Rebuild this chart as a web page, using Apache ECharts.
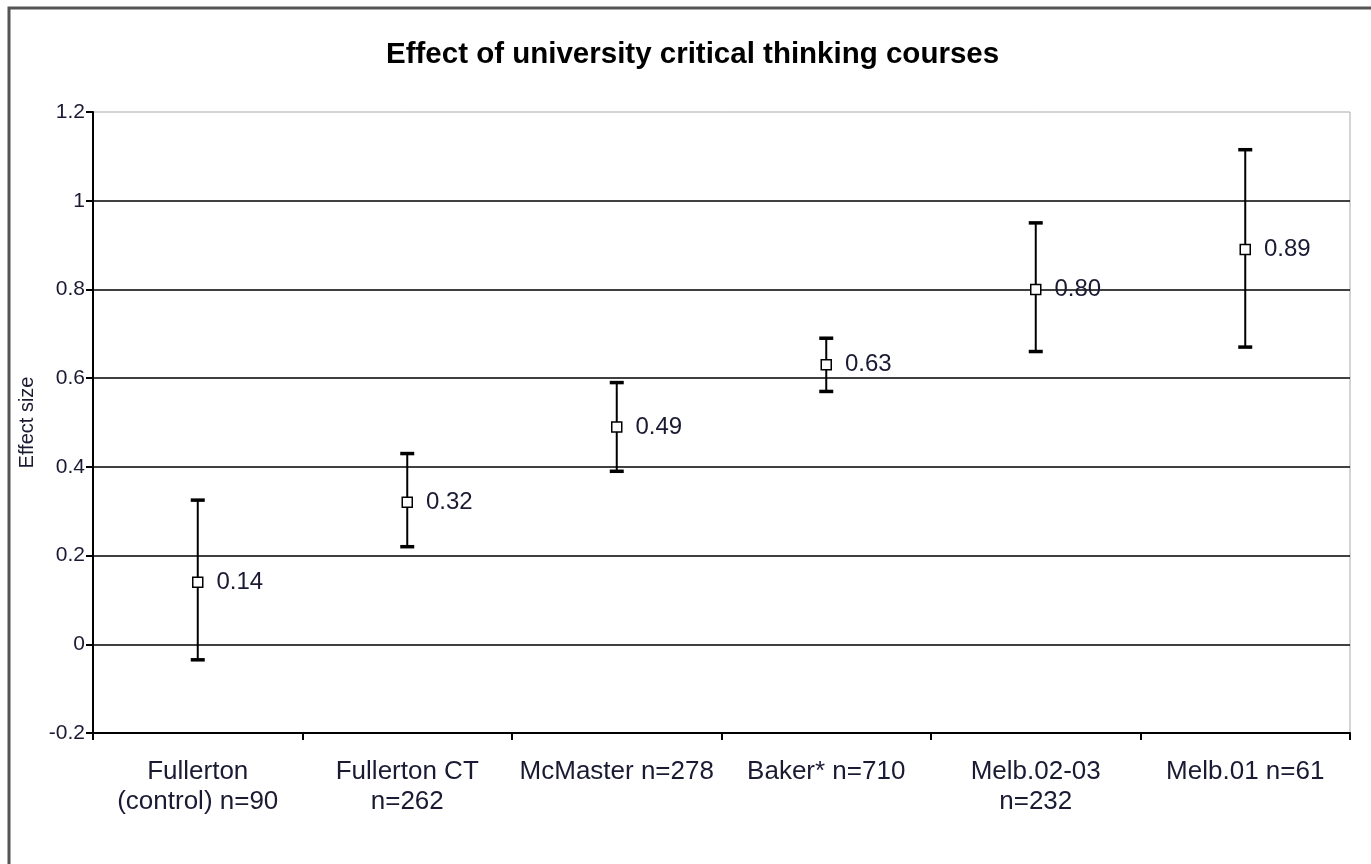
<!DOCTYPE html>
<html>
<head>
<meta charset="utf-8">
<title>Effect of university critical thinking courses</title>
<script src="https://cdn.jsdelivr.net/npm/echarts@6/dist/echarts.min.js"></script>
<style>
  html, body { margin: 0; padding: 0; background: #fff; }
  #chart { width: 1371px; height: 864px; }
</style>
</head>
<body>
<div id="chart"></div>
<script>
  // 数据：各组类别、效应量及误差范围
  var categories = [
    'Fullerton\n(control) n=90',
    'Fullerton CT\nn=262',
    'McMaster n=278',
    'Baker* n=710',
    'Melb.02-03\nn=232',
    'Melb.01 n=61'
  ];
  var effectSize = [0.14, 0.32, 0.49, 0.63, 0.80, 0.89];
  var lowerBound = [-0.035, 0.22, 0.39, 0.57, 0.66, 0.67];
  var upperBound = [0.325, 0.43, 0.59, 0.69, 0.95, 1.115];
  var yTicks = { min: -0.2, max: 1.2, interval: 0.2 };

  var fontFamily = 'Arial, "Liberation Sans", sans-serif';
  var textColor = '#1a1a33';

  var errorData = effectSize.map(function (v, i) {
    return [i, lowerBound[i], upperBound[i]];
  });

  // 误差线：竖线 + 上下端帽
  function renderErrorBar(params, api) {
    var low = api.coord([api.value(0), api.value(1)]);
    var high = api.coord([api.value(0), api.value(2)]);
    var capHalf = 7;
    var lineStyle = { stroke: '#000', lineWidth: 2 };
    var capStyle = { stroke: '#000', lineWidth: 3.5 };
    return {
      type: 'group',
      children: [
        { type: 'line', shape: { x1: high[0], y1: high[1], x2: low[0], y2: low[1] }, style: lineStyle },
        { type: 'line', shape: { x1: high[0] - capHalf, y1: high[1], x2: high[0] + capHalf, y2: high[1] }, style: capStyle },
        { type: 'line', shape: { x1: low[0] - capHalf, y1: low[1], x2: low[0] + capHalf, y2: low[1] }, style: capStyle }
      ]
    };
  }

  var chart = echarts.init(document.getElementById('chart'));
  chart.setOption({
    backgroundColor: '#fff',
    animation: false,
    graphic: [{
      type: 'rect',
      shape: { x: 9, y: 8, width: 1400, height: 900 },
      style: { fill: 'none', stroke: '#555', lineWidth: 3 },
      silent: true
    }],
    title: {
      text: 'Effect of university critical thinking courses',
      left: 381,
      top: 35,
      textStyle: { fontFamily: fontFamily, fontSize: 29.5, fontWeight: 'bold', color: '#000' }
    },
    grid: {
      left: 93,
      right: 21,
      top: 112,
      bottom: 131,
      show: true,
      borderColor: '#aaa',
      borderWidth: 1,
      containLabel: false
    },
    xAxis: {
      type: 'category',
      data: categories,
      boundaryGap: true,
      axisLine: { onZero: false, lineStyle: { color: '#000', width: 2 } },
      axisTick: { show: true, alignWithLabel: false, length: 7, lineStyle: { color: '#000', width: 2 } },
      axisLabel: {
        interval: 0,
        margin: 24,
        color: textColor,
        fontFamily: fontFamily,
        fontSize: 26,
        lineHeight: 30
      },
      splitLine: { show: false }
    },
    yAxis: {
      type: 'value',
      min: yTicks.min,
      max: yTicks.max,
      interval: yTicks.interval,
      name: 'Effect size',
      nameLocation: 'middle',
      nameGap: 47,
      nameRotate: 90,
      nameTextStyle: { fontFamily: fontFamily, fontSize: 20, color: textColor },
      axisLine: { show: true, lineStyle: { color: '#000', width: 2 } },
      axisTick: { show: true, length: 7, lineStyle: { color: '#000', width: 2 } },
      axisLabel: {
        margin: 8,
        color: textColor,
        fontFamily: fontFamily,
        fontSize: 21,
        formatter: function (v) { return String(Math.round(v * 10) / 10); }
      },
      splitLine: {
        show: true,
        showMaxLine: false,
        lineStyle: { color: '#000', width: 1.5 }
      }
    },
    series: [
      {
        type: 'custom',
        name: 'range',
        renderItem: renderErrorBar,
        data: errorData,
        encode: { x: 0, y: [1, 2] },
        z: 2
      },
      {
        type: 'scatter',
        name: 'Effect size',
        data: effectSize,
        symbol: 'rect',
        symbolSize: 10,
        itemStyle: { color: '#fff', borderColor: '#000', borderWidth: 1.5, opacity: 1 },
        label: {
          show: true,
          position: 'right',
          distance: 13,
          color: textColor,
          fontFamily: fontFamily,
          fontSize: 24,
          formatter: function (p) { return p.value.toFixed(2); }
        },
        z: 3
      }
    ]
  });
</script>
</body>
</html>
